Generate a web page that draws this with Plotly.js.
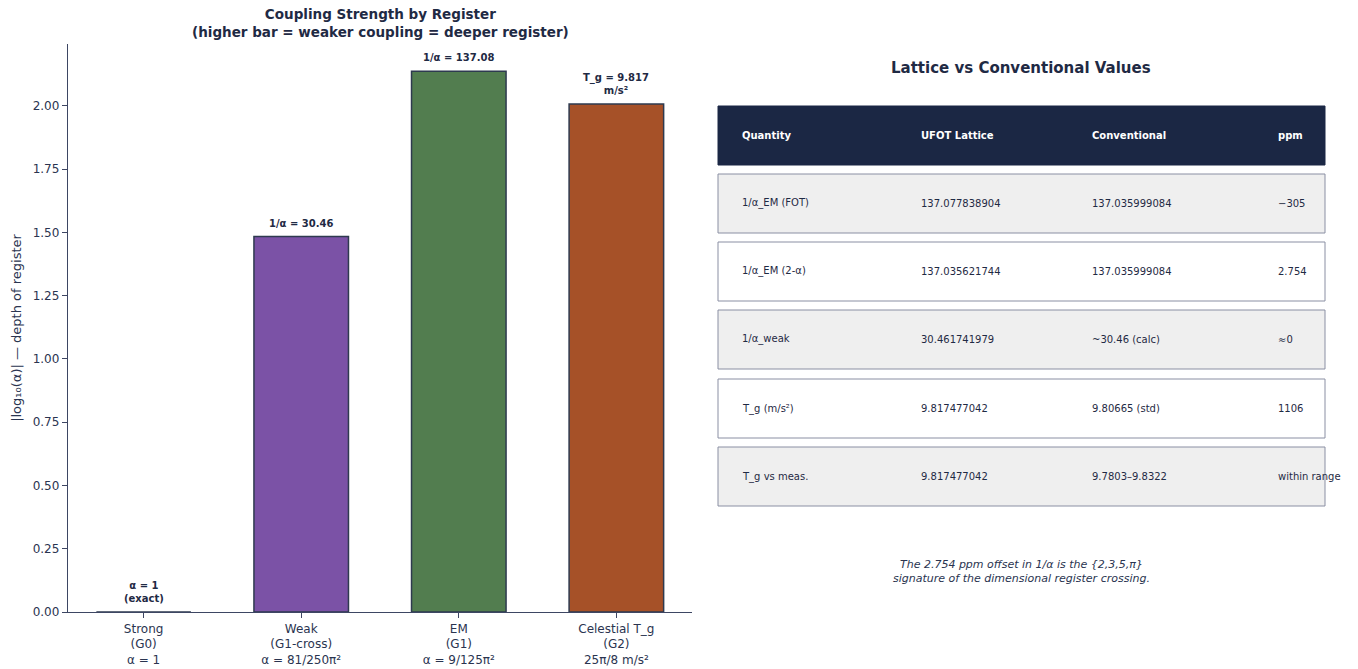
<!DOCTYPE html>
<html>
<head>
<meta charset="utf-8">
<script src="https://cdn.plot.ly/plotly-3.0.1.min.js"></script>
<style>html,body{margin:0;padding:0;background:#fff;}#chart{width:1358px;height:669px;}</style>
</head>
<body>
<div id="chart"></div>
<script>
// ---- data ----
const categories = ["Strong<br>(G0)<br>α = 1", "Weak<br>(G1-cross)<br>α = 81/250π²", "EM<br>(G1)<br>α = 9/125π²", "Celestial T_g<br>(G2)<br>25π/8 m/s²"];
const depthValues = [0.0, 1.484, 2.137, 2.008];
const barLabels = ["α = 1<br>(exact)", "1/α = 30.46", "1/α = 137.08", "T_g = 9.817<br>m/s²"];
const barColors = ["#c0392b", "#7b52a6", "#527d4f", "#a65128"];
const yTicks = [0, 0.25, 0.5, 0.75, 1.0, 1.25, 1.5, 1.75, 2.0];

const tableHeader = ["Quantity", "UFOT Lattice", "Conventional", "ppm"];
const colQuantity = ["1/α_EM (FOT)", "1/α_EM (2-α)", "1/α_weak", "T_g (m/s²)", "T_g vs meas."];
const colLattice = ["137.077838904", "137.035621744", "30.461741979", "9.817477042", "9.817477042"];
const colConventional = ["137.035999084", "137.035999084", "~30.46 (calc)", "9.80665 (std)", "9.7803–9.8322"];
const colPpm = ["−305", "2.754", "≈0", "1106", "within range"];

// ---- layout helpers ----
const W = 1358, H = 669;
const px = x => x / W;
const py = y => 1 - y / H;
const navy = "#1b2744";
const textCol = "#1f2a44";

const trace = {
  type: "bar",
  x: [0, 1, 2, 3],
  y: depthValues,
  width: 0.6,
  marker: { color: barColors, line: { color: "#2e3a4f", width: 1.5 } },
  hoverinfo: "skip"
};

const annotations = [];
depthValues.forEach((v, i) => {
  annotations.push({
    xref: "x", yref: "y", x: i, y: v, yanchor: "bottom", xanchor: "center",
    yshift: 6, showarrow: false, text: "<b>" + barLabels[i] + "</b>",
    font: { family: "DejaVu Sans", size: 10, color: textCol }
  });
});

annotations.push({
  xref: "paper", yref: "paper", x: px(380), y: py(23), xanchor: "center", yanchor: "middle",
  showarrow: false, text: "<b>Coupling Strength by Register<br>(higher bar = weaker coupling = deeper register)</b>",
  font: { family: "DejaVu Sans", size: 13.5, color: textCol }
});

// table
const shapes = [];
const colX = [740, 919, 1090, 1276];
const tblL = 718, tblR = 1325;
shapes.push({ type: "rect", xref: "paper", yref: "paper", x0: px(tblL), x1: px(tblR), y0: py(165), y1: py(106),
  fillcolor: navy, line: { color: navy, width: 1 } });
tableHeader.forEach((t, j) => {
  annotations.push({ xref: "paper", yref: "paper", x: px(colX[j]), y: py(135.5), xanchor: "left", yanchor: "middle",
    showarrow: false, text: "<b>" + t + "</b>", font: { family: "DejaVu Sans", size: 10, color: "#ffffff" } });
});
const rowTops = [174, 242, 310, 379, 447];
const rowH = 59;
colQuantity.forEach((q, i) => {
  const top = rowTops[i];
  shapes.push({ type: "rect", xref: "paper", yref: "paper", x0: px(tblL), x1: px(tblR), y0: py(top + rowH), y1: py(top),
    fillcolor: i % 2 === 0 ? "#efefef" : "#ffffff", line: { color: "#8a8fa3", width: 1 } });
  const cells = [q, colLattice[i], colConventional[i], colPpm[i]];
  cells.forEach((t, j) => {
    annotations.push({ xref: "paper", yref: "paper", x: px(colX[j]), y: py(top + rowH / 2), xanchor: "left", yanchor: "middle",
      showarrow: false, text: t, font: { family: "DejaVu Sans", size: 10, color: textCol } });
  });
});

annotations.push({
  xref: "paper", yref: "paper", x: px(1021), y: py(68), xanchor: "center", yanchor: "middle",
  showarrow: false, text: "<b>Lattice vs Conventional Values</b>",
  font: { family: "DejaVu Sans", size: 15, color: textCol }
});
annotations.push({
  xref: "paper", yref: "paper", x: px(1021), y: py(571.5), xanchor: "center", yanchor: "middle",
  showarrow: false, text: "<i>The 2.754 ppm offset in 1/α is the {2,3,5,π}<br>signature of the dimensional register crossing.</i>",
  font: { family: "DejaVu Sans", size: 11, color: "#2a3450" }
});

const layout = {
  width: W, height: H,
  margin: { l: 0, r: 0, t: 0, b: 0 },
  paper_bgcolor: "#ffffff", plot_bgcolor: "#ffffff",
  showlegend: false,
  xaxis: {
    domain: [px(68), px(692)], range: [-0.48, 3.48],
    tickmode: "array", tickvals: [0, 1, 2, 3], ticktext: categories,
    showgrid: false, zeroline: false, showline: true, linecolor: "#3d4663", linewidth: 1.2,
    ticks: "outside", ticklen: 5, tickcolor: "#3d4663",
    tickfont: { family: "DejaVu Sans", size: 12, color: "#2a3450" }
  },
  yaxis: {
    domain: [py(612), py(44)], range: [0, 2.245],
    tickmode: "array", tickvals: yTicks, ticktext: yTicks.map(v => v.toFixed(2)),
    showgrid: false, zeroline: false, showline: true, linecolor: "#3d4663", linewidth: 1.2,
    ticks: "outside", ticklen: 5, tickcolor: "#3d4663",
    tickfont: { family: "DejaVu Sans", size: 12, color: "#2a3450" },
    title: { text: "|log₁₀(α)| — depth of register", font: { family: "DejaVu Sans", size: 13, color: "#2a3450" }, standoff: 8 }
  },
  shapes: shapes,
  annotations: annotations
};

Plotly.newPlot("chart", [trace], layout, { displayModeBar: false, staticPlot: true });
</script>
</body>
</html>
